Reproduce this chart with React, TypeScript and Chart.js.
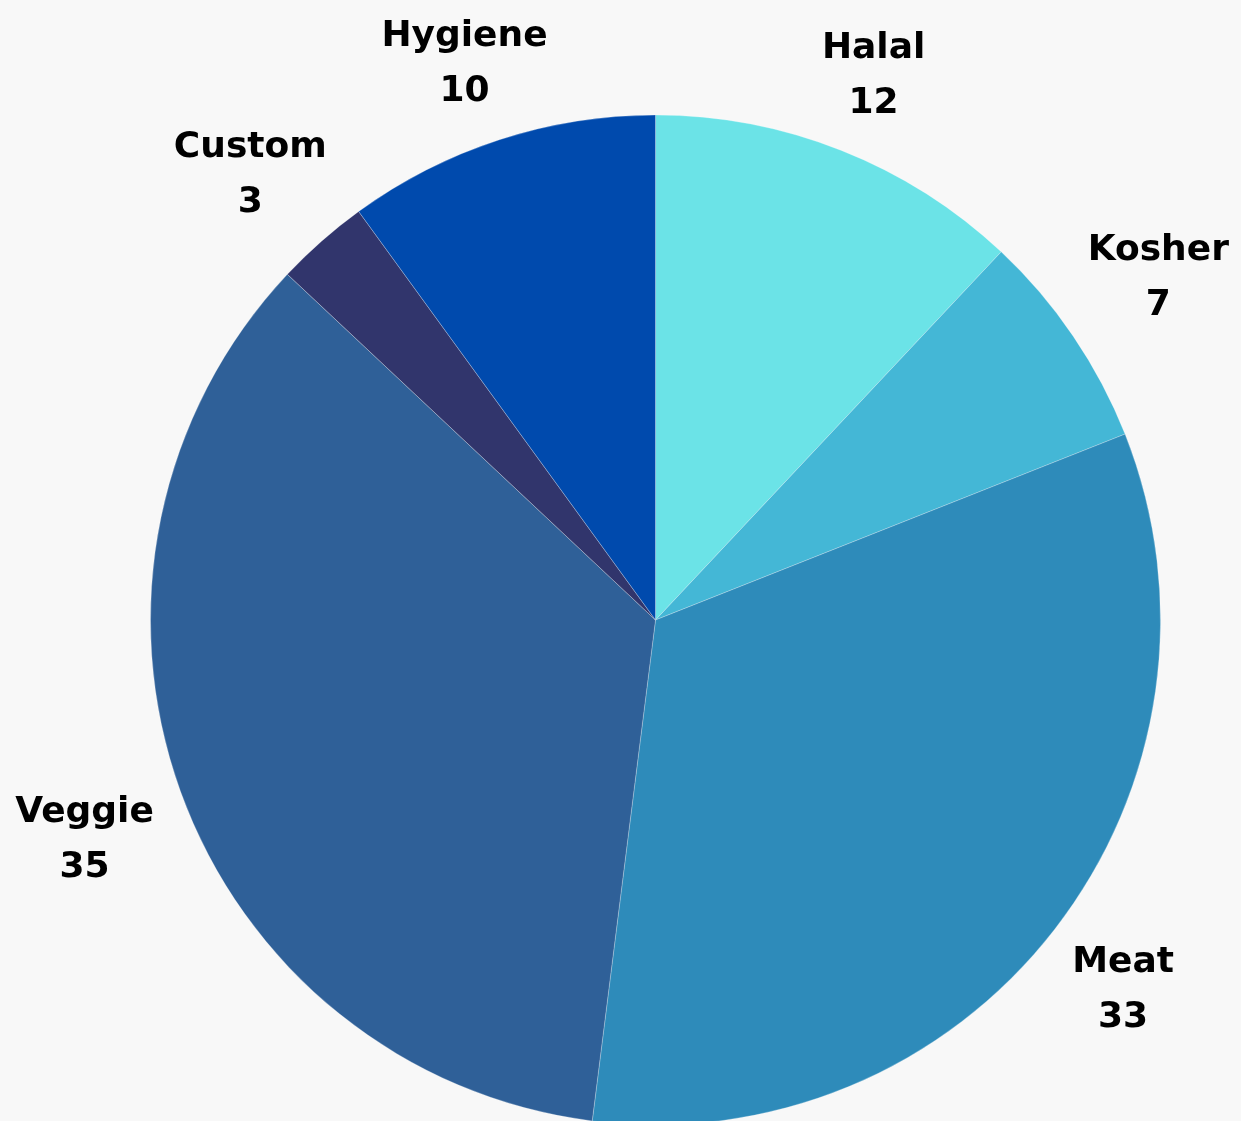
import React, { useEffect, useRef } from "react";
import { Chart, registerables } from "chart.js";

Chart.register(...registerables);

const categories = ["Halal", "Kosher", "Meat", "Veggie", "Custom", "Hygiene"];
const values = [12, 7, 33, 35, 3, 10];
const colors = ["#6be3e7", "#44b7d6", "#2e8bba", "#2f6098", "#31356c", "#004aad"];

const labelPlugin = {
  id: "outerLabels",
  afterDatasetsDraw(chart: any) {
    const { ctx } = chart;
    const meta = chart.getDatasetMeta(0);
    ctx.save();
    ctx.fillStyle = "#000000";
    ctx.font = "bold 36px 'DejaVu Sans'";
    ctx.textAlign = "center";
    ctx.textBaseline = "middle";
    meta.data.forEach((arc: any, i: number) => {
      const { x, y, startAngle, endAngle, outerRadius } = arc.getProps(
        ["x", "y", "startAngle", "endAngle", "outerRadius"],
        true
      );
      const mid = (startAngle + endAngle) / 2;
      const dx = Math.cos(mid);
      const dy = Math.sin(mid);
      const w = Math.max(
        ctx.measureText(categories[i]).width,
        ctx.measureText(String(values[i])).width
      );
      const r = outerRadius + 45;
      const cx = x + dx * (r + 0.41 * w);
      const cy = y + dy * r + Math.sign(dy) * 33;
      ctx.fillText(categories[i], cx, cy - 27);
      ctx.fillText(String(values[i]), cx, cy + 28);
    });
    ctx.restore();
  },
};

export default function App() {
  const ref = useRef<HTMLCanvasElement>(null);
  useEffect(() => {
    document.body.style.margin = "0";
    document.body.style.background = "#f8f8f8";
    const chart = new Chart(ref.current!, {
      type: "pie",
      data: {
        labels: categories,
        datasets: [
          {
            data: values,
            backgroundColor: colors,
            borderColor: "rgba(255,255,255,0.5)",
            borderWidth: 0.5,
            radius: 505,
          } as any,
        ],
      },
      options: {
        animation: false,
        responsive: false,
        layout: { padding: { left: 70, top: 119 } },
        plugins: {
          legend: { display: false },
          tooltip: { enabled: false },
        },
      },
      plugins: [labelPlugin],
    });
    return () => chart.destroy();
  }, []);
  return (
    <div style={{ width: 1241, height: 1121, background: "#f8f8f8", overflow: "hidden" }}>
      <canvas ref={ref} width={1241} height={1121} style={{ display: "block" }} />
    </div>
  );
}
